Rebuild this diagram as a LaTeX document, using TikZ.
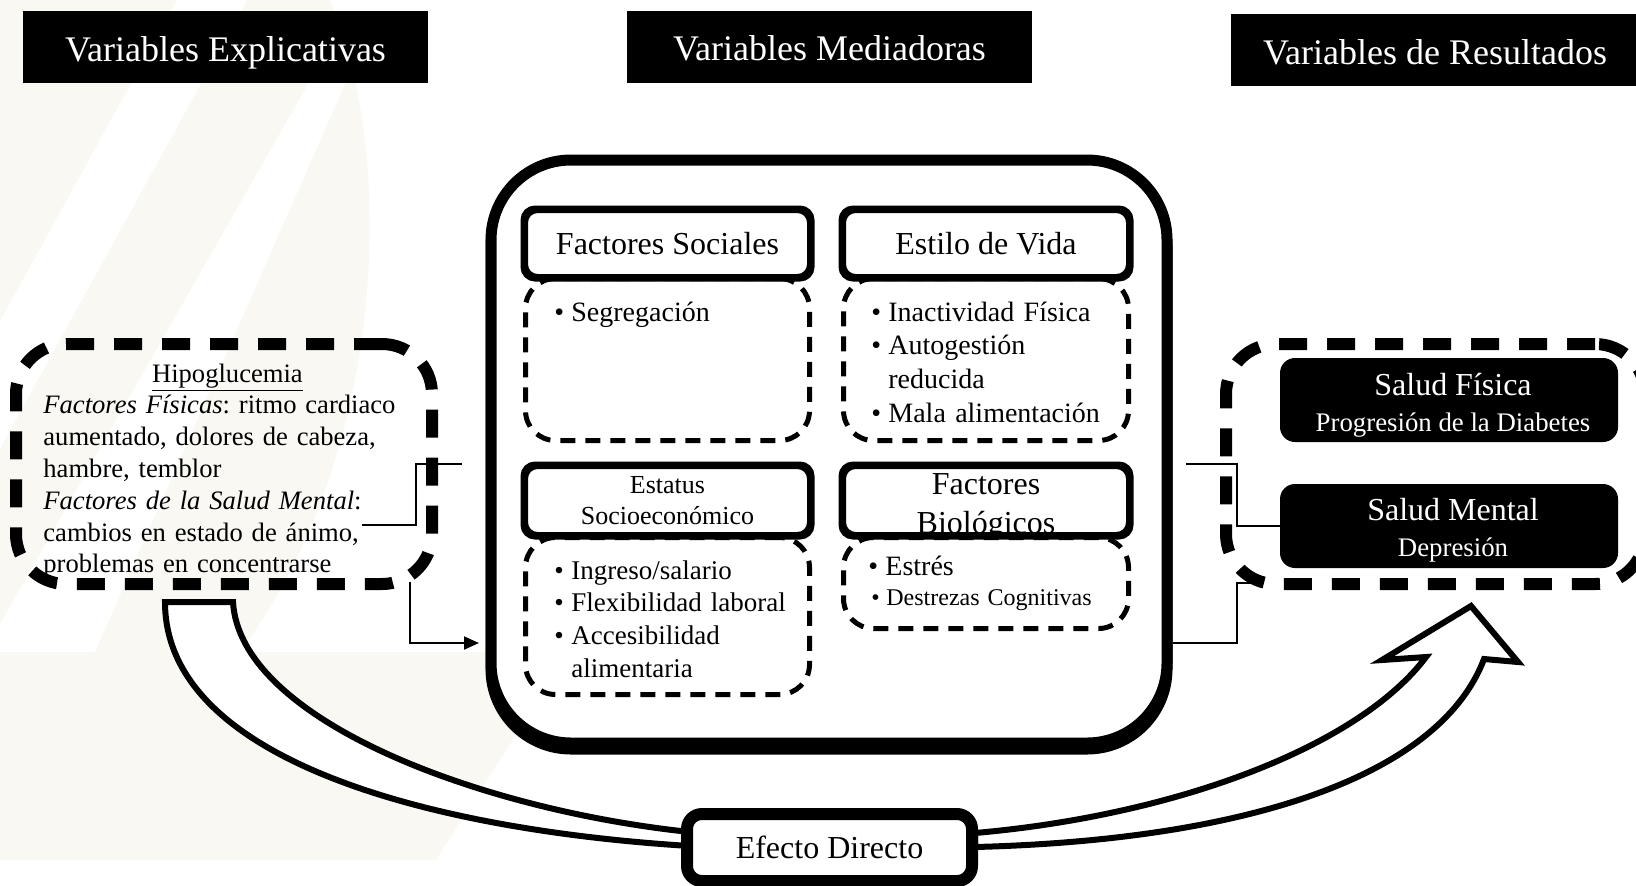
\documentclass[tikz,border=0pt]{standalone}
\usepackage{fontspec}
\setmainfont{Liberation Serif}
\usetikzlibrary{arrows.meta}
\definecolor{cream}{RGB}{249,248,243}
\newcommand{\mybul}{\makebox[8.5pt][l]{\textbullet}}
\frenchspacing
\begin{document}
\begin{tikzpicture}[x=0.5pt,y=-0.5pt,
  titlebox/.style={fill=black,text=white,inner sep=0pt,minimum height=36pt,text height=14pt,text depth=0pt,font=\fontsize{18}{22}\selectfont},
  bigdash/.style={draw=black,line width=6pt,dash pattern=on 14pt off 10pt,rounded corners=25pt,inner sep=0pt,minimum width=208pt,minimum height=120pt},
  hdrbox/.style={draw=black,fill=white,line width=2.5pt,rounded corners=6pt,inner sep=0pt,minimum width=142pt,align=center},
  dashbox/.style={draw=black,fill=white,line width=2.5pt,dash pattern=on 7.5pt off 5pt,rounded corners=15pt,inner sep=0pt,minimum width=142pt},
  items/.style={inner sep=0pt,text width=125pt,align=left,anchor=base west,font=\fontsize{14}{16.85}\selectfont},
  blackbox/.style={fill=black,rounded corners=7.5pt,inner sep=0pt,minimum width=169pt,minimum height=42pt},
  blacktext/.style={text=white,inner sep=0pt,align=center,font=\fontsize{13.4}{18}\selectfont},
  conn/.style={line width=1pt},
  band/.style={draw=black,fill=white,line width=3pt,line join=miter},
]
\useasboundingbox (0,0) rectangle (1636,885);
% faint watermark
\begin{scope}
\clip (0,0) -- (330,0) .. controls (395,150) and (390,450) .. (240,652) -- (0,652) -- cycle;
\fill[cream] (0,0) rectangle (420,652);
\fill[white] (177,0) -- (247,0) -- (-112,652) -- (-182,652) -- cycle;
\fill[white] (356,0) -- (382,0) -- (95,652) -- (-16,652) -- cycle;
\end{scope}
\fill[cream] (0,652) -- (569,652) -- (436,860) -- (0,860) -- cycle;

% titles
\node[titlebox,minimum width=202.5pt] (t1) at (225.5,47) {Variables Explicativas};
\node[titlebox,minimum width=202.5pt] (t2) at (829.5,46.5) {Variables Mediadoras};
\node[titlebox,minimum width=204.5pt] (t3) at (1435,50) {Variables de Resultados};

% big direct-effect arrow
\draw[band] (165,602) -- (233,602) .. controls (240,720) and (480,810) .. (690,832) -- (690,846) .. controls (430,830) and (165,760) .. (165,602) -- cycle;
\draw[band] (975,833) .. controls (1180,815) and (1360,745) .. (1426,657) -- (1382,660) -- (1471,606) -- (1518,662) -- (1484,659) .. controls (1440,775) and (1250,840) .. (975,847) -- cycle;
\node[draw=black,fill=white,line width=6pt,rounded corners=7.5pt,inner sep=0pt,minimum width=142.5pt,minimum height=33.5pt,font=\fontsize{16}{19}\selectfont] (ed) at (829.5,847.5) {Efecto Directo};

% left box
\node[bigdash] (L) at (224,464) {};
\node[inner sep=0pt,text width=184pt,align=left,anchor=base west,font=\fontsize{13.3}{15.9}\selectfont] (lt) at (43,382)
 {\makebox[\linewidth]{\underline{Hipoglucemia}}\\
  \textit{Factores Físicas}: ritmo cardiaco\\
  aumentado, dolores de cabeza,\\
  hambre, temblor\\
  \textit{Factores de la Salud Mental}:\\
  cambios en estado de ánimo,\\
  problemas en concentrarse};

% right box
\node[bigdash,minimum width=209.5pt] (R) at (1435.5,464) {};
\node[blackbox] (sf) at (1449,400) {};
\node[blacktext] (sft) at (1453,405) {{\fontsize{16}{18}\selectfont Salud Física}\\Progresión de la Diabetes};
\node[blackbox] (sm) at (1449,526) {};
\node[blacktext] (smt) at (1453,530) {{\fontsize{16}{18}\selectfont Salud Mental}\\Depresión};

% big mediator box with shadow
\draw[line width=5.5pt,rounded corners=40pt] (491,166) rectangle (1167,749);
\node[draw=black,fill=white,line width=5.5pt,rounded corners=40pt,inner sep=0pt,minimum width=338pt,minimum height=291.5pt] (M) at (829,451.5) {};

% Factores Sociales
\node[hdrbox,minimum height=33pt,font=\fontsize{16}{19}\selectfont] (hs) at (667.5,243.5) {Factores Sociales};
\node[dashbox,minimum height=81pt] (ds) at (667.5,359.5) {};
\draw[line width=2.5pt,rounded corners=6pt] (hs.south west) rectangle (hs.north east);
\node[items] (is) at (554,321) {\mybul Segregación};

% Estilo de Vida
\node[hdrbox,minimum width=142.5pt,minimum height=33pt,font=\fontsize{16}{19}\selectfont] (hv) at (986,243.5) {Estilo de Vida};
\node[dashbox,minimum width=142.5pt,minimum height=81pt] (dv) at (986,359.5) {};
\draw[line width=2.5pt,rounded corners=6pt] (hv.south west) rectangle (hv.north east);
\node[items] (iv) at (871,321) {\mybul Inactividad Física\\\mybul Autogestión\\\hspace*{8.5pt}reducida\\\mybul Mala alimentación};

% Estatus Socioeconomico
\node[hdrbox,minimum height=34pt,font=\fontsize{13}{15.5}\selectfont] (he) at (667.5,500.5) {Estatus\\Socioeconómico};
\node[dashbox,minimum height=78.5pt] (de) at (667.5,616) {};
\draw[line width=2.5pt,rounded corners=6pt] (he.south west) rectangle (he.north east);
\node[items,font=\fontsize{13.5}{16.35}\selectfont] (ie) at (554,579) {\mybul Ingreso/salario\\\mybul Flexibilidad laboral\\\mybul Accesibilidad\\\hspace*{8.5pt}alimentaria};

% Factores Biologicos
\node[hdrbox,minimum width=142.5pt,minimum height=34pt] (hb) at (986,500.5) {};
\node[inner sep=0pt,align=center,font=\fontsize{16}{19.5}\selectfont] (hbt) at (986,507) {Factores\\Biológicos};
\node[dashbox,minimum width=142.5pt,minimum height=45.5pt] (db) at (986,583) {};
\draw[line width=2.5pt,rounded corners=6pt] (hb.south west) rectangle (hb.north east);
\node[items] (ib1) at (868,575) {\mybul Estrés};
\node[items,font=\fontsize{12}{14}\selectfont] (ib2) at (871,605) {\makebox[7.5pt][l]{\textbullet}Destrezas Cognitivas};

% connectors
\coordinate (c1s) at (362,525);
\coordinate (c1e) at (462,464);
\draw[conn] (c1s) -- (416,525) |- (c1e);
\coordinate (c2s) at (410,582);
\coordinate (c2e) at (479,643);
\draw[conn,-{Triangle[length=7.5pt,width=6.5pt]}] (c2s) |- (c2e);
\coordinate (c3s) at (1186,464);
\draw[conn] (c3s) -- (1237,464) |- (sm.west);
\coordinate (c4e) at (1252,583);
\draw[conn] (M.east |- c2e) -- (1237,643) |- (c4e);
\end{tikzpicture}
\end{document}
